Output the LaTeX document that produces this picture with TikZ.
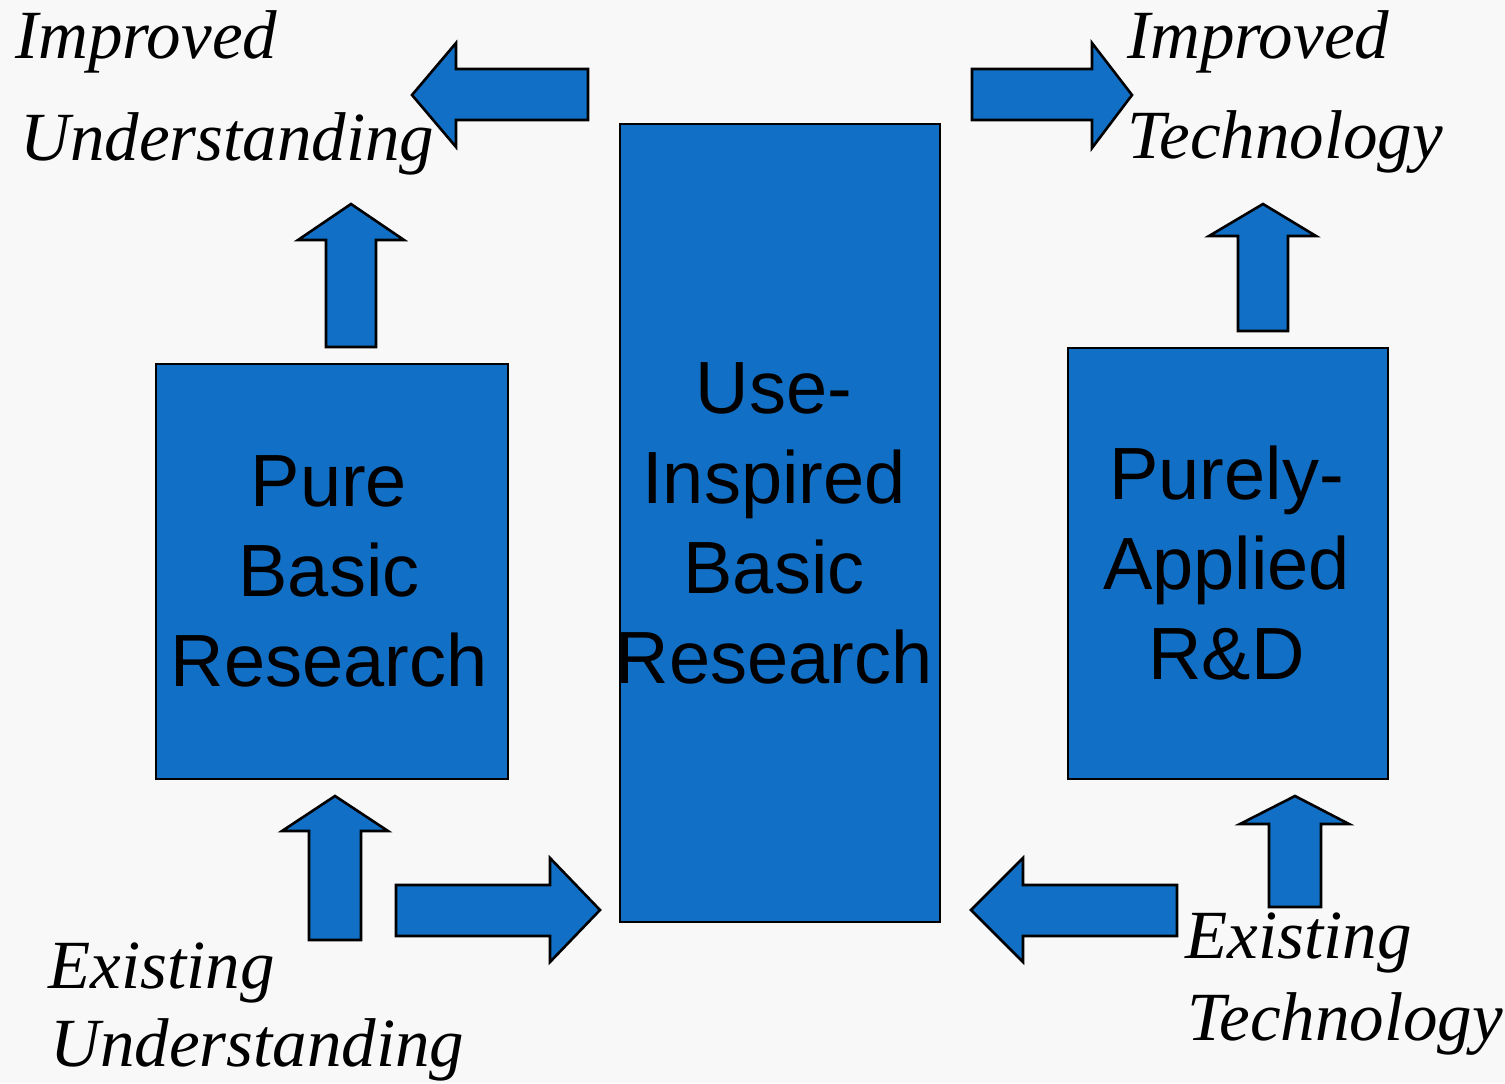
\documentclass[tikz,border=0pt]{standalone}
\usepackage{fontspec}
\setmainfont{Liberation Serif}
\newfontfamily\boxfont{Liberation Sans}
\definecolor{bluefill}{RGB}{17,112,198}
\definecolor{bgcol}{RGB}{248,248,248}
\tikzset{
  bx/.style={draw=black, line width=1pt, fill=bluefill, inner sep=0pt, align=center,
    font=\boxfont\fontsize{37}{45}\selectfont},
  blockarrow/.style={draw=black, line width=1.3pt, fill=bluefill, line join=miter},
  lbl/.style={anchor=base west, inner sep=0pt, font=\itshape\fontsize{34.5}{42}\selectfont}
}
\begin{document}
\begin{tikzpicture}[x=0.5pt, y=-0.5pt]
\fill[bgcol] (0,0) rectangle (1505,1083);
\useasboundingbox (0,0) rectangle (1505,1083);

% boxes
\node[bx, minimum width=176pt, minimum height=207.5pt] (pure) at (332,571.5) {};
\node[bx, draw=none, fill=none] (puretext) at (329,571.5) {Pure\\Basic\\Research};
\node[bx, minimum width=160pt, minimum height=399pt] (use) at (780,523) {};
\node[bx, draw=none, fill=none] (usetext) at (774,523) {Use-\\Inspired\\Basic\\Research};
\node[bx, minimum width=160pt, minimum height=215.5pt] (applied) at (1228,563.5) {};
\node[bx, draw=none, fill=none] (appliedtext) at (1226.5,563.5) {Purely-\\Applied\\R\&D};

% block arrows
% top-left, pointing left
\draw[blockarrow] (588,69) -- (456,69) -- (456,43) -- (412,95) -- (456,147) -- (456,120) -- (588,120) -- cycle;
% top-right, pointing right
\draw[blockarrow] (972,69) -- (1092,69) -- (1092,43) -- (1132,95) -- (1092,148) -- (1092,120) -- (972,120) -- cycle;
% above pure, up
\draw[blockarrow] (326,347) -- (326,240) -- (298,240) -- (351,204) -- (404,240) -- (376,240) -- (376,347) -- cycle;
% above applied, up
\draw[blockarrow] (1238,331) -- (1238,236) -- (1209,236) -- (1263,204) -- (1316,236) -- (1288,236) -- (1288,331) -- cycle;
% below pure, up
\draw[blockarrow] (309,940) -- (309,831) -- (282,831) -- (335,796) -- (388,831) -- (361,831) -- (361,940) -- cycle;
% bottom, right
\draw[blockarrow] (396,885) -- (550,885) -- (550,858) -- (600,910) -- (550,962) -- (550,936) -- (396,936) -- cycle;
% bottom right, left
\draw[blockarrow] (1177,885) -- (1023,885) -- (1023,858) -- (971,910) -- (1023,962) -- (1023,936) -- (1177,936) -- cycle;
% below applied, up
\draw[blockarrow] (1269,907) -- (1269,824) -- (1240,824) -- (1295,796) -- (1349,824) -- (1321,824) -- (1321,907) -- cycle;

% labels
\node[lbl] (iu1) at (15,58) {Improved};
\node[lbl] (iu2) at (20,160) {Understanding};
\node[lbl] (it1) at (1127,58) {Improved};
\node[lbl] (it2) at (1127,158) {Technology};
\node[lbl] (eu1) at (48,988) {Existing};
\node[lbl] (eu2) at (50,1066) {Understanding};
\node[lbl] (et1) at (1185,958) {Existing};
\node[lbl] (et2) at (1187,1040) {Technology};
\end{tikzpicture}
\end{document}
